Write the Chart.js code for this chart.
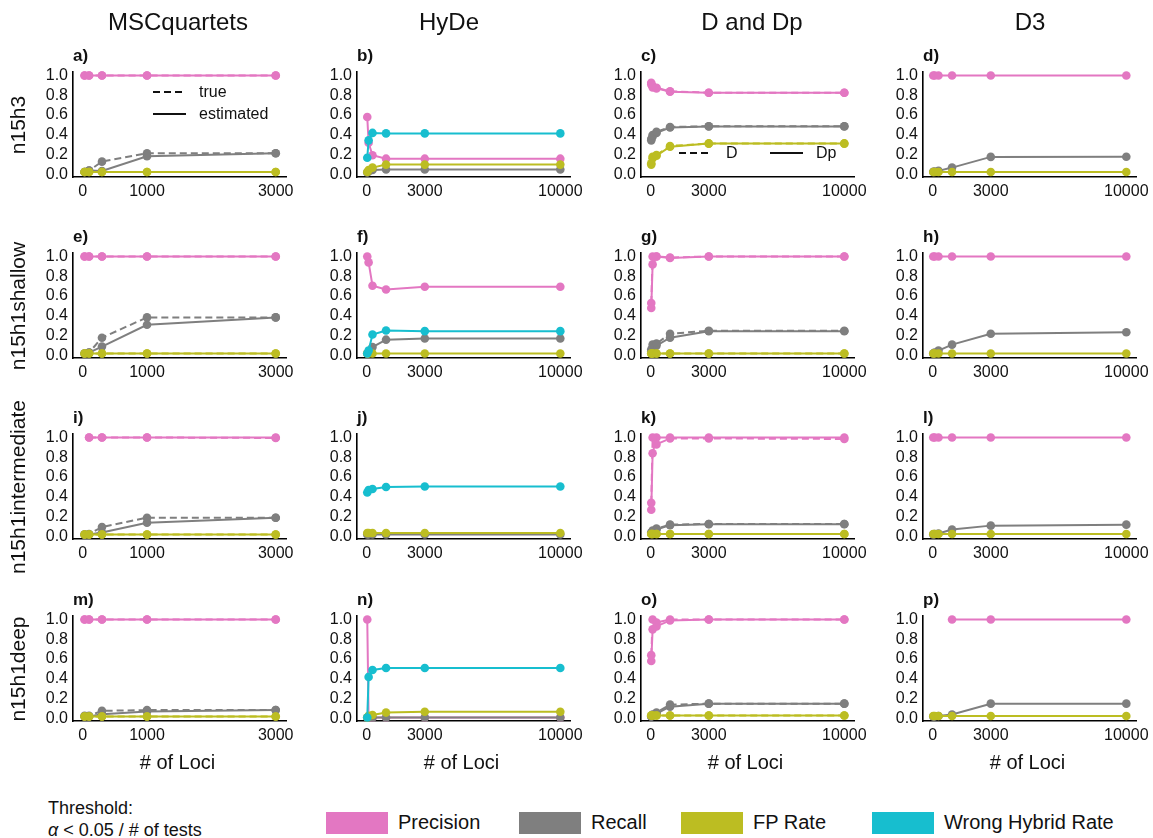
<!DOCTYPE html>
<html>
<head>
<meta charset="utf-8">
<script src="https://cdn.jsdelivr.net/npm/chart.js@4.4.1/dist/chart.umd.min.js"></script>
<style>
  html, body { margin:0; padding:0; background:#fff; }
  body { width:1153px; height:838px; position:relative; overflow:hidden; font-family:"Liberation Sans", Arial, sans-serif; color:#111; }
  .t { position:absolute; white-space:nowrap; }
  .c { transform:translate(-50%,-50%); }
  .rot { transform:translate(-50%,-50%) rotate(-90deg); }
  canvas { position:absolute; }
</style>
</head>
<body>
<script>
// ---------------- data ----------------
const lociMSC = [30, 100, 300, 1000, 3000];
const lociAll = [30, 100, 300, 1000, 3000, 10000];
const xTicksMSC = [0, 1000, 3000];
const xTicksAll = [0, 3000, 10000];
const yTicks = [0, 0.2, 0.4, 0.6, 0.8, 1.0];

const columnTitles = ["MSCquartets", "HyDe", "D and Dp", "D3"];
const rowTitles = ["n15h3", "n15h1shallow", "n15h1intermediate", "n15h1deep"];
const legendLabels = ["Precision", "Recall", "FP Rate", "Wrong Hybrid Rate"];

// MSCquartets (true = dashed, estimated = solid)
const a_prec_true = [1, 1, 1, 1, 1];
const a_prec_est  = [1, 1, 1, 1, 1];
const a_rec_true  = [0.025, 0.04, 0.13, 0.215, 0.215];
const a_rec_est   = [0.025, 0.04, 0.035, 0.185, 0.215];
const a_fp_true   = [0.025, 0.025, 0.025, 0.025, 0.025];
const a_fp_est    = [0.025, 0.025, 0.025, 0.025, 0.025];

const e_prec_true = [1, 1, 1, 1, 1];
const e_prec_est  = [1, 1, 1, 1, 1];
const e_rec_true  = [0.02, 0.03, 0.18, 0.385, 0.385];
const e_rec_est   = [0.02, 0.03, 0.09, 0.31, 0.385];
const e_fp_true   = [0.02, 0.02, 0.02, 0.02, 0.02];
const e_fp_est    = [0.02, 0.02, 0.02, 0.02, 0.02];

const i_prec_true = [null, 1, 1, 1, 0.995];
const i_prec_est  = [null, 1, 1, 1, 1];
const i_rec_true  = [0.02, 0.025, 0.095, 0.19, 0.19];
const i_rec_est   = [0.02, 0.02, 0.04, 0.14, 0.19];
const i_fp_true   = [0.02, 0.02, 0.02, 0.02, 0.02];
const i_fp_est    = [0.02, 0.02, 0.02, 0.02, 0.02];

const m_prec_true = [1, 1, 1, 1, 1];
const m_prec_est  = [1, 1, 1, 1, 1];
const m_rec_true  = [0.027, 0.027, 0.078, 0.085, 0.085];
const m_rec_est   = [0.02, 0.02, 0.044, 0.072, 0.085];
const m_fp_true   = [0.02, 0.02, 0.02, 0.02, 0.02];
const m_fp_est    = [0.02, 0.02, 0.02, 0.02, 0.02];

// HyDe
const b_prec = [0.58, 0.32, 0.195, 0.16, 0.16, 0.16];
const b_rec  = [0.02, 0.03, 0.045, 0.05, 0.05, 0.05];
const b_fp   = [0.025, 0.045, 0.07, 0.10, 0.10, 0.10];
const b_wh   = [0.17, 0.345, 0.42, 0.415, 0.415, 0.415];

const f_prec = [1.0, 0.94, 0.705, 0.667, 0.694, 0.694];
const f_rec  = [0.02, 0.03, 0.085, 0.16, 0.172, 0.172];
const f_fp   = [0.02, 0.02, 0.02, 0.02, 0.02, 0.02];
const f_wh   = [0.02, 0.05, 0.212, 0.252, 0.246, 0.246];

const j_prec = [null, null, null, null, null, null];
const j_rec  = [0.02, 0.02, 0.02, 0.02, 0.02, 0.02];
const j_fp   = [0.035, 0.035, 0.035, 0.035, 0.035, 0.035];
const j_wh   = [0.445, 0.47, 0.48, 0.5, 0.505, 0.505];

const n_prec = [1.0, 0.01, 0.01, 0.01, 0.01, 0.01];
const n_rec  = [0.01, 0.01, 0.01, 0.01, 0.01, 0.01];
const n_fp   = [0.01, 0.027, 0.035, 0.06, 0.068, 0.068];
const n_wh   = [0.01, 0.42, 0.49, 0.51, 0.51, 0.51];

// D (dashed) and Dp (solid)
const c_prec_D  = [0.926, 0.893, 0.876, 0.84, 0.826, 0.826];
const c_prec_Dp = [0.91, 0.88, 0.87, 0.835, 0.826, 0.826];
const c_rec_D   = [0.358, 0.398, 0.431, 0.48, 0.488, 0.488];
const c_rec_Dp  = [0.345, 0.385, 0.42, 0.475, 0.486, 0.486];
const c_fp_D    = [0.114, 0.18, 0.197, 0.288, 0.314, 0.314];
const c_fp_Dp   = [0.1, 0.165, 0.19, 0.28, 0.312, 0.312];

const g_prec_D  = [0.53, 1.0, 1.0, 0.99, 1.0, 1.0];
const g_prec_Dp = [0.48, 0.92, 1.0, 0.985, 1.0, 1.0];
const g_rec_D   = [0.06, 0.11, 0.12, 0.22, 0.25, 0.25];
const g_rec_Dp  = [0.04, 0.08, 0.1, 0.18, 0.245, 0.245];
const g_fp_D    = [0.02, 0.02, 0.02, 0.02, 0.02, 0.02];
const g_fp_Dp   = [0.02, 0.02, 0.02, 0.02, 0.02, 0.02];

const k_prec_D  = [0.34, 1.0, 0.93, 0.99, 0.99, 0.985];
const k_prec_Dp = [0.27, 0.84, 1.0, 1.0, 1.0, 1.0];
const k_rec_D   = [0.04, 0.06, 0.08, 0.12, 0.127, 0.127];
const k_rec_Dp  = [0.035, 0.05, 0.07, 0.115, 0.125, 0.125];
const k_fp_D    = [0.025, 0.025, 0.025, 0.025, 0.025, 0.025];
const k_fp_Dp   = [0.025, 0.025, 0.025, 0.025, 0.025, 0.025];

const o_prec_D  = [0.64, 1.0, 0.97, 1.0, 1.0, 1.0];
const o_prec_Dp = [0.58, 0.9, 0.93, 0.99, 1.0, 1.0];
const o_rec_D   = [0.02, 0.04, 0.06, 0.14, 0.15, 0.15];
const o_rec_Dp  = [0.02, 0.035, 0.05, 0.12, 0.15, 0.15];
const o_fp_D    = [0.03, 0.03, 0.03, 0.03, 0.03, 0.03];
const o_fp_Dp   = [0.03, 0.03, 0.03, 0.03, 0.03, 0.03];

// D3
const d_prec = [1, 1, 1, 1, 1, 1];
const d_rec  = [0.027, 0.03, 0.037, 0.07, 0.178, 0.18];
const d_fp   = [0.025, 0.025, 0.025, 0.025, 0.025, 0.025];

const h_prec = [1, 1, 1, 1, 1, 1];
const h_rec  = [0.02, 0.03, 0.05, 0.11, 0.22, 0.235];
const h_fp   = [0.02, 0.02, 0.02, 0.02, 0.02, 0.02];

const l_prec = [1, 1, 1, 1, 1, 1];
const l_rec  = [0.02, 0.025, 0.03, 0.07, 0.11, 0.12];
const l_fp   = [0.025, 0.025, 0.025, 0.025, 0.025, 0.025];

const p_prec = [null, null, null, 1, 1, 1];
const p_rec  = [0.02, 0.02, 0.025, 0.04, 0.15, 0.15];
const p_fp   = [0.025, 0.025, 0.025, 0.025, 0.025, 0.025];

// ---------------- styling / layout ----------------
const FONT = '"Liberation Sans", Arial, sans-serif';
const colors = { prec: '#e377c2', rec: '#7f7f7f', fp: '#bcbd22', wh: '#17becf' };
const orderOf = { prec: 40, rec: 30, fp: 20, wh: 10 };
const plotLeft = [73, 357, 641, 923];
const plotTop = [72, 253, 434, 616];
const PW = 213, PH = 105, YW = 55, XH = 30, PADT = 18, PADR = 30;

const panels = [
  { lab: 'a)', col: 0, row: 0, loci: lociMSC, lines: [['prec', a_prec_true, 1], ['prec', a_prec_est, 0], ['rec', a_rec_true, 1], ['rec', a_rec_est, 0], ['fp', a_fp_true, 1], ['fp', a_fp_est, 0]] },
  { lab: 'b)', col: 1, row: 0, loci: lociAll, lines: [['prec', b_prec, 0], ['rec', b_rec, 0], ['fp', b_fp, 0], ['wh', b_wh, 0]] },
  { lab: 'c)', col: 2, row: 0, loci: lociAll, lines: [['prec', c_prec_D, 1], ['prec', c_prec_Dp, 0], ['rec', c_rec_D, 1], ['rec', c_rec_Dp, 0], ['fp', c_fp_D, 1], ['fp', c_fp_Dp, 0]] },
  { lab: 'd)', col: 3, row: 0, loci: lociAll, lines: [['prec', d_prec, 0], ['rec', d_rec, 0], ['fp', d_fp, 0]] },
  { lab: 'e)', col: 0, row: 1, loci: lociMSC, lines: [['prec', e_prec_true, 1], ['prec', e_prec_est, 0], ['rec', e_rec_true, 1], ['rec', e_rec_est, 0], ['fp', e_fp_true, 1], ['fp', e_fp_est, 0]] },
  { lab: 'f)', col: 1, row: 1, loci: lociAll, lines: [['prec', f_prec, 0], ['rec', f_rec, 0], ['fp', f_fp, 0], ['wh', f_wh, 0]] },
  { lab: 'g)', col: 2, row: 1, loci: lociAll, lines: [['prec', g_prec_D, 1], ['prec', g_prec_Dp, 0], ['rec', g_rec_D, 1], ['rec', g_rec_Dp, 0], ['fp', g_fp_D, 1], ['fp', g_fp_Dp, 0]] },
  { lab: 'h)', col: 3, row: 1, loci: lociAll, lines: [['prec', h_prec, 0], ['rec', h_rec, 0], ['fp', h_fp, 0]] },
  { lab: 'i)', col: 0, row: 2, loci: lociMSC, lines: [['prec', i_prec_true, 1], ['prec', i_prec_est, 0], ['rec', i_rec_true, 1], ['rec', i_rec_est, 0], ['fp', i_fp_true, 1], ['fp', i_fp_est, 0]] },
  { lab: 'j)', col: 1, row: 2, loci: lociAll, lines: [['prec', j_prec, 0], ['rec', j_rec, 0], ['fp', j_fp, 0], ['wh', j_wh, 0]] },
  { lab: 'k)', col: 2, row: 2, loci: lociAll, lines: [['prec', k_prec_D, 1], ['prec', k_prec_Dp, 0], ['rec', k_rec_D, 1], ['rec', k_rec_Dp, 0], ['fp', k_fp_D, 1], ['fp', k_fp_Dp, 0]] },
  { lab: 'l)', col: 3, row: 2, loci: lociAll, lines: [['prec', l_prec, 0], ['rec', l_rec, 0], ['fp', l_fp, 0]] },
  { lab: 'm)', col: 0, row: 3, loci: lociMSC, lines: [['prec', m_prec_true, 1], ['prec', m_prec_est, 0], ['rec', m_rec_true, 1], ['rec', m_rec_est, 0], ['fp', m_fp_true, 1], ['fp', m_fp_est, 0]] },
  { lab: 'n)', col: 1, row: 3, loci: lociAll, lines: [['prec', n_prec, 0], ['rec', n_rec, 0], ['fp', n_fp, 0], ['wh', n_wh, 0]] },
  { lab: 'o)', col: 2, row: 3, loci: lociAll, lines: [['prec', o_prec_D, 1], ['prec', o_prec_Dp, 0], ['rec', o_rec_D, 1], ['rec', o_rec_Dp, 0], ['fp', o_fp_D, 1], ['fp', o_fp_Dp, 0]] },
  { lab: 'p)', col: 3, row: 3, loci: lociAll, lines: [['prec', p_prec, 0], ['rec', p_rec, 0], ['fp', p_fp, 0]] },
];

function addText(txt, x, y, css, cls) {
  const d = document.createElement('div');
  d.className = 't ' + (cls || '');
  d.style.left = x + 'px';
  d.style.top = y + 'px';
  d.style.cssText += css || '';
  d.innerHTML = txt;
  document.body.appendChild(d);
  return d;
}

function makeChart(p) {
  const cv = document.createElement('canvas');
  const W = YW + PW + PADR, H = PADT + PH + XH;
  cv.width = W; cv.height = H;
  cv.style.left = (plotLeft[p.col] - YW) + 'px';
  cv.style.top = (plotTop[p.row] - PADT) + 'px';
  cv.style.width = W + 'px'; cv.style.height = H + 'px';
  document.body.appendChild(cv);
  const isMSC = p.col === 0;
  const xt = isMSC ? xTicksMSC : xTicksAll;
  const xMin = isMSC ? -150 : -500;
  const xMax = isMSC ? 3160 : 10500;
  new Chart(cv, {
    type: 'line',
    data: {
      datasets: p.lines.map(([m, arr, dashed]) => ({
        data: p.loci.map((x, i) => ({ x: x, y: arr[i] })),
        borderColor: colors[m],
        backgroundColor: colors[m],
        pointBackgroundColor: colors[m],
        pointBorderWidth: 0,
        pointRadius: 4.3,
        borderWidth: 2,
        borderDash: dashed ? [7, 4] : [],
        order: orderOf[m] + (dashed ? 0 : 1),
        clip: false,
        spanGaps: false,
        tension: 0
      }))
    },
    options: {
      responsive: false,
      animation: false,
      devicePixelRatio: 1,
      layout: { padding: { left: 0, right: PADR, top: PADT, bottom: 0 } },
      plugins: { legend: { display: false }, tooltip: { enabled: false } },
      scales: {
        x: {
          type: 'linear', min: xMin, max: xMax,
          afterFit: s => { s.height = XH; },
          afterBuildTicks: s => { s.ticks = xt.map(v => ({ value: v })); },
          grid: { display: true, color: 'rgba(0,0,0,0)', drawTicks: false },
          border: { display: true, color: '#000', width: 1.6 },
          ticks: { autoSkip: false, maxRotation: 0, padding: 5, color: '#111', font: { family: FONT, size: 16 }, callback: v => String(v) }
        },
        y: {
          type: 'linear', min: -0.025, max: 1.035,
          afterFit: s => { s.width = YW; },
          afterBuildTicks: s => { s.ticks = yTicks.map(v => ({ value: v })); },
          grid: { display: true, color: 'rgba(0,0,0,0)', drawTicks: false },
          border: { display: true, color: '#000', width: 1.6 },
          ticks: { autoSkip: false, padding: 5, color: '#111', font: { family: FONT, size: 16 }, callback: v => Number(v).toFixed(1) }
        }
      }
    }
  });
  addText(p.lab, plotLeft[p.col], plotTop[p.row] - 26, 'font-weight:bold;font-size:17px;line-height:20px;');
}

panels.forEach(makeChart);

// column titles
const colCenters = [178, 449, 752, 1030];
columnTitles.forEach((t, i) => addText(t, colCenters[i], 22, 'font-size:24px;', 'c'));
// row titles
rowTitles.forEach((t, i) => addText(t, 18, plotTop[i] + PH / 2, 'font-size:21px;', 'rot'));
// x axis titles
plotLeft.forEach(l => addText('# of Loci', l + PW / 2 - 2, 762, 'font-size:20px;', 'c'));

// inline legends (true/estimated ; D/Dp)
function lineSample(x, y, w, dashed) {
  const ns = 'http://www.w3.org/2000/svg';
  const svg = document.createElementNS(ns, 'svg');
  svg.setAttribute('width', w); svg.setAttribute('height', 4);
  svg.style.cssText = `position:absolute;left:${x}px;top:${y - 2}px;`;
  const ln = document.createElementNS(ns, 'line');
  ln.setAttribute('x1', 0); ln.setAttribute('x2', w);
  ln.setAttribute('y1', 2); ln.setAttribute('y2', 2);
  ln.setAttribute('stroke', '#111'); ln.setAttribute('stroke-width', 2);
  if (dashed) ln.setAttribute('stroke-dasharray', '7 4');
  svg.appendChild(ln);
  document.body.appendChild(svg);
}
lineSample(153, 92, 31, true);
addText('true', 199, 83, 'font-size:16px;line-height:18px;');
lineSample(153, 114, 33, false);
addText('estimated', 199, 105, 'font-size:16px;line-height:18px;');
lineSample(679, 153, 30, true);
addText('D', 726, 144, 'font-size:16px;line-height:18px;');
lineSample(770, 153, 33, false);
addText('Dp', 816, 144, 'font-size:16px;line-height:18px;');

// bottom legend
addText('Threshold:', 48, 797, 'font-size:18px;line-height:22px;');
addText('<i>α</i> &lt; 0.05 / # of tests', 48, 819, 'font-size:18px;line-height:22px;');
const legBoxX = [326, 519, 681, 872];
const legKeys = ['prec', 'rec', 'fp', 'wh'];
legendLabels.forEach((t, i) => {
  const b = document.createElement('div');
  b.style.cssText = `position:absolute;left:${legBoxX[i]}px;top:812px;width:62px;height:22px;background:${colors[legKeys[i]]};`;
  document.body.appendChild(b);
  addText(t, legBoxX[i] + 72, 810, 'font-size:20px;line-height:24px;');
});
</script>
</body>
</html>
